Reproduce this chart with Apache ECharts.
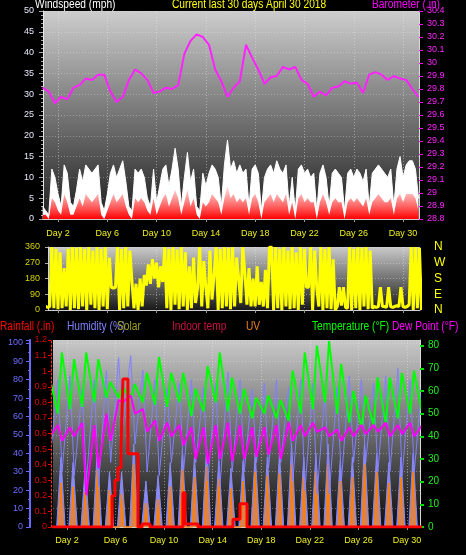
<!DOCTYPE html>
<html>
<head>
<meta charset="utf-8">
<title>Current last 30 days</title>
<script src="https://cdn.jsdelivr.net/npm/echarts@6.0.0/dist/echarts.min.js"></script>
<style>
  html, body { margin: 0; padding: 0; background: #000; }
  #chart { width: 466px; height: 555px; }
</style>
</head>
<body>
<div id="chart"></div>
<script>
// day labels on the time axes
var dayTicks = [2, 6, 10, 14, 18, 22, 26, 30];

// wind (mph), one value every 6 hours starting day 0.75
var windStart = 0.75, windStep = 0.25;
var windGust = [3,
  2, 1, 12, 10,  6, 3, 13, 11,  4, 3, 7, 12,  9, 13, 12, 11,  12, 13, 4, 2,
  6, 11, 13, 10,  12, 14, 9, 3,  2, 12, 11, 12,  10, 5, 3, 12,  4, 8, 12, 13,
  8, 12, 17, 12,  3, 10, 16, 9,  12, 3, 2, 11,  8, 11, 13, 12,  10, 3, 13, 19,
  12, 14, 11, 13,  11, 12, 3, 12,  13, 11, 2, 10,  12, 13, 11, 14,  12, 11, 13, 3,
  10, 2, 12, 13,  11, 12, 10, 11,  2, 11, 13, 10,  3, 11, 12, 11,  10, 2, 11, 12,
  10, 12, 11, 9,  12, 3, 11, 12,  13, 12, 11, 10,  12, 3, 12, 15,  10, 13, 14, 14,
  12, 5];
var windAvg = [1,
  1, 0, 5, 4,  2, 1, 6, 4,  1, 1, 3, 5,  3, 6, 5, 4,  5, 6, 1, 0,
  2, 4, 6, 4,  5, 6, 3, 1,  0, 5, 4, 5,  4, 2, 1, 5,  1, 3, 5, 6,
  3, 5, 7, 5,  1, 4, 7, 3,  5, 1, 0, 4,  3, 4, 6, 5,  4, 1, 5, 8,
  5, 6, 4, 5,  4, 5, 1, 5,  6, 4, 0, 4,  5, 6, 4, 6,  5, 4, 6, 1,
  4, 0, 5, 6,  4, 5, 4, 4,  0, 4, 6, 4,  1, 4, 5, 4,  4, 0, 4, 5,
  4, 5, 4, 3,  5, 1, 4, 5,  6, 5, 4, 4,  5, 1, 5, 6,  4, 6, 6, 6,
  5, 2];

// barometer (in), every 12 hours starting day 0.75
var baroStart = 0.75, baroStep = 0.5;
var baro = [29.81, 29.78, 29.69, 29.74, 29.72, 29.81, 29.83, 29.88, 29.87, 29.91,
  29.91, 29.78, 29.70, 29.74, 29.87, 29.95, 29.92, 29.87, 29.77, 29.78,
  29.81, 29.80, 29.83, 30.07, 30.17, 30.22, 30.20, 30.14, 29.95, 29.86,
  29.74, 29.81, 29.86, 30.14, 30.04, 29.95, 29.84, 29.89, 29.90, 29.97,
  29.95, 29.97, 29.87, 29.84, 29.74, 29.78, 29.75, 29.81, 29.82, 29.86,
  29.84, 29.85, 29.77, 29.91, 29.93, 29.91, 29.87, 29.90, 29.88, 29.87,
  29.80, 29.74];

// wind direction (deg), every 4 hours starting day 1
var dirStart = 1, dirStep = 1 / 6;
var windDir = [20, 15, 20, 360, 10,
  350, 5, 330, 10, 240, 20, 350,
  0, 360, 10, 355, 5,
  360, 20, 350, 0, 360, 30, 340, 10, 360, 0, 350, 20, 360, 5, 300,
  130, 125, 130,
  360, 0, 350, 10, 360, 20, 340,
  170, 10, 150, 0, 180, 20,
  200, 140, 260, 150, 290, 180, 270, 130, 250, 160,
  360, 10, 350, 0, 360, 30, 345, 5, 360, 20, 330, 0,
  250, 10, 300, 40, 130, 360, 20, 280, 130, 10, 340, 60, 200,
  360, 0, 350, 10, 360, 20, 355, 5, 360,
  20, 300, 180, 40, 360, 210, 30,
  240, 20, 180, 20, 250, 30, 160, 20, 230, 10,
  360, 360, 0, 360, 10, 350, 0, 360, 20, 340,
  5, 360, 10, 330, 0, 360, 30,
  350, 130, 130, 360, 0, 340, 130, 20, 360, 0, 350, 10, 360, 5, 290, 0,
  20, 130, 25, 130, 15, 10,
  360, 0, 350, 10, 360, 0, 355, 20, 360, 5, 340, 10,
  20, 15, 20, 130, 20, 20, 15, 130, 20, 15, 20, 25, 20, 130, 20, 15, 20, 30,
  360, 0, 360, 10, 355, 0];

// daily values, day 0 .. day 31
var tempHi = [66, 77, 74, 77, 74, 64, 62, 63, 68, 75, 68, 68, 61, 71, 77, 66,
  61, 57, 58, 56, 69, 77, 80, 82, 72, 60, 58, 66, 66, 68, 69, 70];
var tempLo = [50, 50, 52, 53, 55, 57, 57, 56, 55, 54, 53, 55, 49, 51, 55, 51,
  50, 48, 50, 48, 47, 50, 52, 55, 50, 46, 44, 45, 46, 48, 50, 50];
var humHi = [78, 80, 82, 75, 80, 85, 92, 93, 85, 80, 75, 78, 80, 76, 78, 84,
  80, 75, 78, 80, 76, 80, 78, 74, 76, 82, 80, 78, 82, 86, 80, 80];
var humLo = [35, 30, 28, 25, 22, 35, 55, 45, 30, 28, 35, 30, 35, 25, 22, 30,
  30, 35, 32, 35, 25, 20, 18, 18, 25, 35, 35, 30, 30, 28, 30, 30];
var dewNight = [44, 45, 44, 46, 45, 50, 56, 58, 52, 47, 46, 45, 44, 44, 45, 46,
  45, 44, 44, 45, 46, 45, 46, 44, 43, 44, 45, 45, 46, 45, 46, 45];
var dewDay = [40, 38, 40, 14, 26, 38, 55, 50, 42, 38, 40, 36, 30, 28, 30, 29,
  30, 31, 32, 30, 38, 40, 42, 40, 38, 40, 41, 42, 40, 41, 40, 42];

// daily peaks, day 1 .. day 30
var solarPeak = [38, 35, 32, 42, 30, 30, 45, 25, 28, 35, 42, 38, 44, 36, 32,
  36, 40, 38, 40, 45, 38, 40, 45, 36, 38, 45, 40, 35, 38, 40];
var uvPeak = [24, 22, 19, 31, 20, 18, 34, 13, 15, 22, 31, 27, 33, 26, 21,
  25, 30, 28, 29, 34, 27, 30, 34, 25, 27, 34, 30, 24, 27, 30];

// rainfall (in), value holds from its day until the next one
var rainDays = [0.75, 5.71, 5.95, 6.2, 6.45, 6.61, 7.02, 7.85, 8.18, 8.84,
  11.55, 11.72, 12.79, 15.67, 16.25, 16.83, 31.25];
var rainIn = [0, 0.2, 0.3, 0.38, 0.5, 0.95, 0.47, 0, 0.02, 0,
  0.22, 0.02, 0, 0.05, 0.15, 0, 0];

var sans = '"Liberation Sans", Arial, sans-serif';

function timeSeries(start, step, values) {
  return values.map(function (v, i) { return [start + i * step, v]; });
}

// two readings per day at fixed times of day
function dailyPairs(a, aAt, b, bAt) {
  var out = [];
  for (var n = 0; n < a.length; n++) {
    var p = [[n + aAt, a[n]], [n + bAt, b[n]]];
    if (aAt > bAt) p.reverse();
    out.push(p[0], p[1]);
  }
  return out;
}

// midday peaks going back to zero at night
function dailyPeaks(values, firstDay, halfWidth) {
  var out = [[firstDay - 0.25, 0]];
  values.forEach(function (v, i) {
    var d = firstDay + i + 0.5;
    out.push([d - halfWidth, 0], [d, v], [d + halfWidth, 0]);
  });
  out.push([firstDay + values.length + 0.25, 0]);
  return out;
}

function panelBg(top, bottom) {
  return {type: 'linear', x: 0, y: 0, x2: 0, y2: 1,
    colorStops: [{offset: 0, color: top}, {offset: 1, color: bottom}]};
}

function dayAxis(grid, min, max, margin) {
  return {
    type: 'value', gridIndex: grid, min: min, max: max,
    axisLine: {show: true, onZero: false, lineStyle: {color: '#d0d0d0'}},
    axisTick: {show: true, customValues: dayTicks, length: 3, lineStyle: {color: '#9a9a9a'}},
    axisLabel: {show: margin > 0, customValues: dayTicks, formatter: 'Day {value}',
      color: '#eeee22', fontSize: 9, fontFamily: sans, margin: margin},
    splitLine: {show: true, lineStyle: {color: 'rgba(235,235,235,0.45)', type: [1, 2]}}
  };
}

// header texts are squeezed a little to match the narrow original font
function header(text, x, y, color) {
  return {type: 'text', x: x, y: y, scaleX: 0.85,
    style: {text: text, fill: color, fontSize: 12, fontFamily: sans}};
}

var dirNames = {0: 'N', 90: 'E', 180: 'S', 270: 'W', 360: 'N'};

var myChart = echarts.init(document.getElementById('chart'));
var option = {
  backgroundColor: '#000000',
  animation: false,
  graphic: [
    header('Windspeed (mph)', 35, -1, '#ffffff'),
    header('Current last 30 days April 30 2018', 172, -1, '#ffff00'),
    header('Barometer (.in)', 372, -1, '#ff00ff'),
    header('Rainfall (.in)', 0, 321, '#ff0000'),
    header('Humidity (%)', 67, 321, '#8080ff'),
    header('Solar', 117, 321, '#a0a020'),
    header('Indoor temp', 172, 321, '#c81040'),
    header('UV', 246, 321, '#e88020'),
    header('Temperature (°F)', 312, 321, '#00ff00'),
    header('Dew Point (°F)', 392, 321, '#ff00ff')
  ],
  grid: [
    {left: 43, right: 47, top: 11, bottom: 336, show: true, borderWidth: 0,
      backgroundColor: panelBg('#cdcdcd', '#1e1e1e')},
    {left: 48, right: 46, top: 247, bottom: 245, show: true, borderWidth: 0,
      backgroundColor: panelBg('#cacaca', '#1a1a1a')},
    {left: 53, right: 46, top: 340, bottom: 28, show: true, borderWidth: 0,
      backgroundColor: panelBg('#c8c8c8', '#0c0c0c')}
  ],
  xAxis: [
    dayAxis(0, 0.78, 31.29, 10),
    dayAxis(1, 1.19, 31.38, 0),
    dayAxis(2, 0.85, 31.07, 9)
  ],
  yAxis: [
    { // windspeed
      type: 'value', gridIndex: 0, min: 0, max: 50, interval: 5, position: 'left',
      axisLine: {show: true, lineStyle: {color: '#e8e8e8'}},
      axisTick: {show: true, length: 4, lineStyle: {color: '#a8a8a8'}},
      minorTick: {show: true, splitNumber: 5, length: 2, lineStyle: {color: '#a8a8a8'}},
      axisLabel: {color: '#e8e8ff', fontSize: 9, fontFamily: sans, margin: 9},
      splitLine: {show: true, lineStyle: {color: 'rgba(235,235,235,0.35)', type: [1, 2]}}
    },
    { // barometer
      type: 'value', gridIndex: 0, min: 28.8, max: 30.4, interval: 0.1, position: 'right',
      axisLine: {show: true, lineStyle: {color: '#d8d8d8'}},
      axisTick: {show: true, length: 4, lineStyle: {color: '#ff00ff'}},
      axisLabel: {color: '#ff22ff', fontSize: 9, fontFamily: sans, margin: 8},
      splitLine: {show: false}
    },
    { // wind direction
      type: 'value', gridIndex: 1, min: 0, max: 360, interval: 90, position: 'left',
      axisLine: {show: true, lineStyle: {color: '#d8d8d8'}},
      axisTick: {show: true, length: 3, lineStyle: {color: '#a8a8a8'}},
      axisLabel: {color: '#d4d400', fontSize: 9, fontFamily: sans, margin: 8},
      splitLine: {show: true, lineStyle: {color: 'rgba(235,235,235,0.4)', type: [1, 2]}}
    },
    { // compass letters
      type: 'value', gridIndex: 1, min: 0, max: 360, interval: 90, position: 'right',
      axisLine: {show: false}, axisTick: {show: false}, splitLine: {show: false},
      axisLabel: {color: '#ffff00', fontSize: 12, fontFamily: sans, margin: 14,
        formatter: function (v) { return dirNames[v]; }}
    },
    { // humidity
      type: 'value', gridIndex: 2, min: 0, max: 101.5, interval: 10, position: 'left', offset: 23,
      axisLine: {show: true, lineStyle: {color: '#6a6aff', width: 2}},
      axisTick: {show: true, length: 4, lineStyle: {color: '#6a6aff'}},
      minorTick: {show: true, splitNumber: 2, length: 2, lineStyle: {color: '#6a6aff'}},
      axisLabel: {color: '#6e6eff', fontSize: 9, fontFamily: sans, margin: 7, showMaxLabel: false},
      splitLine: {show: true, lineStyle: {color: 'rgba(235,235,235,0.35)', type: [1, 2]}}
    },
    { // rainfall
      type: 'value', gridIndex: 2, min: 0, max: 1.2, interval: 0.1, position: 'left', offset: 2,
      axisLine: {show: true, lineStyle: {color: '#ff3030', type: [2, 2]}},
      axisTick: {show: true, length: 3, lineStyle: {color: '#ee0000'}},
      axisLabel: {color: '#dd0000', fontSize: 9, fontFamily: sans, margin: 4},
      splitLine: {show: false}
    },
    { // temperature / dew point
      type: 'value', gridIndex: 2, min: 0, max: 82.5, interval: 10, position: 'right',
      axisLine: {show: true, lineStyle: {color: '#d8d8d8'}},
      axisTick: {show: true, length: 4, lineStyle: {color: '#00dd00', width: 2}},
      axisLabel: {color: '#22ee22', fontSize: 10, fontFamily: sans, margin: 8, showMaxLabel: false},
      splitLine: {show: false}
    }
  ],
  series: [
    {
      name: 'Gust', type: 'line', xAxisIndex: 0, yAxisIndex: 0, symbol: 'none',
      data: timeSeries(windStart, windStep, windGust),
      lineStyle: {color: '#ffffff', width: 1},
      areaStyle: {color: '#ffffff', opacity: 1}
    },
    {
      name: 'Windspeed', type: 'line', xAxisIndex: 0, yAxisIndex: 0, symbol: 'none',
      data: timeSeries(windStart, windStep, windAvg),
      lineStyle: {width: 0},
      areaStyle: {opacity: 1, color: {type: 'linear', x: 0, y: 0, x2: 0, y2: 1,
        colorStops: [{offset: 0, color: 'rgba(255,60,60,0.15)'}, {offset: 1, color: 'rgba(255,0,0,1)'}]}}
    },
    {
      name: 'Barometer', type: 'line', xAxisIndex: 0, yAxisIndex: 1, symbol: 'none',
      data: timeSeries(baroStart, baroStep, baro),
      lineStyle: {color: '#ff22ff', width: 2}
    },
    {
      name: 'Wind direction', type: 'line', xAxisIndex: 1, yAxisIndex: 2, symbol: 'none',
      data: timeSeries(dirStart, dirStep, windDir),
      lineStyle: {color: '#ffff00', width: 3}
    },
    {
      name: 'Solar', type: 'line', xAxisIndex: 2, yAxisIndex: 4, symbol: 'none',
      data: dailyPeaks(solarPeak, 1, 0.35),
      lineStyle: {color: '#8a8af4', width: 1},
      areaStyle: {color: '#8a8af4', opacity: 1}
    },
    {
      name: 'UV', type: 'line', xAxisIndex: 2, yAxisIndex: 4, symbol: 'none',
      data: dailyPeaks(uvPeak, 1, 0.17),
      lineStyle: {color: '#ff8000', width: 1.5},
      areaStyle: {color: '#ff8000', opacity: 0.6}
    },
    {
      name: 'Humidity', type: 'line', xAxisIndex: 2, yAxisIndex: 4, symbol: 'none',
      data: dailyPairs(humHi, 0.25, humLo, 0.6),
      lineStyle: {color: '#8080ff', width: 1}
    },
    {
      name: 'Temperature', type: 'line', xAxisIndex: 2, yAxisIndex: 6, symbol: 'none',
      data: dailyPairs(tempLo, 0.25, tempHi, 0.58),
      lineStyle: {color: '#00ff00', width: 2}
    },
    {
      name: 'Dew Point', type: 'line', xAxisIndex: 2, yAxisIndex: 6, symbol: 'none',
      data: dailyPairs(dewNight, 0.25, dewDay, 0.6),
      lineStyle: {color: '#ff00ff', width: 2}
    },
    {
      name: 'Rainfall', type: 'line', xAxisIndex: 2, yAxisIndex: 5, symbol: 'none', step: 'end',
      data: rainDays.map(function (d, i) { return [d, rainIn[i]]; }),
      lineStyle: {color: '#ff0000', width: 3}
    }
  ]
};
myChart.setOption(option);
</script>
</body>
</html>
